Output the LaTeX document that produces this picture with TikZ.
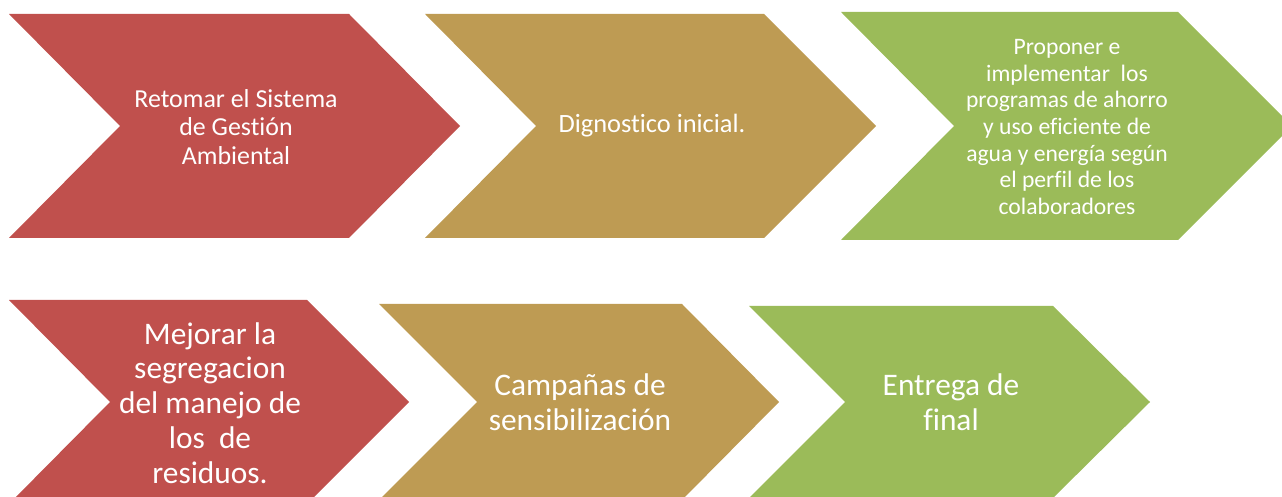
\documentclass[tikz,border=0pt]{standalone}
\usepackage{fontspec}
\setmainfont{Carlito}[Ligatures={NoCommon}]
\definecolor{cred}{RGB}{192,80,77}
\definecolor{cgold}{RGB}{190,155,83}
\definecolor{cgreen}{RGB}{155,187,89}
\tikzset{
  lbl/.style={text=white, align=center, inner sep=0pt},
  big/.style={lbl, font=\fontsize{31.5}{35}\selectfont},
}
\begin{document}
\begin{tikzpicture}[x=1bp,y=-1bp]
\useasboundingbox (0,0) rectangle (1282,497);
\clip (0,0) rectangle (1282,497);
% top row
\fill[cred]   (9,14) -- (349,14) -- (460,126) -- (349,238) -- (9,238) -- (120,126) -- cycle;
\fill[cgold]  (425,14) -- (764,14) -- (876,126) -- (764,238) -- (425,238) -- (536,126) -- cycle;
\fill[cgreen] (841,12) -- (1178,12) -- (1292,126) -- (1178,240) -- (841,240) -- (954,126) -- cycle;
% bottom row
\fill[cred]   (9,300) -- (307,300) -- (409,402) -- (307,504) -- (9,504) -- (110,402) -- cycle;
\fill[cgold]  (379,304) -- (682,304) -- (779,402) -- (682,500) -- (379,500) -- (477,402) -- cycle;
\fill[cgreen] (749,306) -- (1053,306) -- (1150,402) -- (1053,498) -- (749,498) -- (845,402) -- cycle;
% labels
\node[lbl, font=\fontsize{26}{28.5}\selectfont] (t1) at (236,127) {Retomar el Sistema\\de Gestión\\Ambiental};
\node[lbl, font=\fontsize{26.5}{28.5}\selectfont] (t2) at (652,126) {Dignostico inicial.};
\node[lbl, font=\fontsize{23.7}{26.7}\selectfont] (t3) at (1067,127) {Proponer e\\implementar\ \ los\\programas de ahorro\\y uso eficiente de\\agua y energía según\\el perfil de los\\colaboradores};
\node[big] (t4) at (210,403) {Mejorar la\\segregacion\\del manejo de\\los\ \ de\\residuos.};
\node[big] (t5) at (580,402) {Campañas de\\sensibilización};
\node[big] (t6) at (951,402) {Entrega de\\final};
\end{tikzpicture}
\end{document}
